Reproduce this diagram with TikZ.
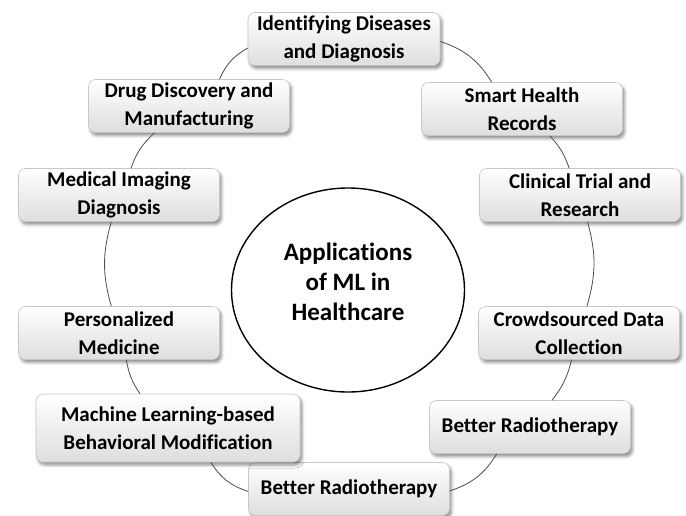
\documentclass[tikz,border=0pt]{standalone}
\usepackage{fontspec}
\setmainfont{Carlito}[Ligatures={NoCommon}]
\usetikzlibrary{shapes.geometric,shadows.blur}
\begin{document}
\begin{tikzpicture}[x=1pt,y=-1pt,
  appbox/.style={rectangle, rounded corners=7pt, draw=black!22, line width=0.6pt,
    top color=white, bottom color=black!13, minimum width=201pt, minimum height=53pt,
    align=center, inner sep=2pt, font=\fontsize{21}{28}\selectfont\bfseries,
    blur shadow={shadow xshift=2pt, shadow yshift=-3pt, shadow blur radius=3pt, shadow opacity=45}},
  hub/.style={ellipse, draw=black, line width=1.4pt, minimum width=233pt,
    minimum height=204pt, inner sep=0pt},
  hubtext/.style={align=center, font=\fontsize{25}{30}\selectfont\bfseries},
  ring/.style={draw=black!70, line width=0.8pt}]
\useasboundingbox (0,0) rectangle (686,515);

% centre of the diagram
\node[hub] (hub) at (348,290) {};
\node[hubtext] (hubt) at (348,282) {Applications\\of ML in\\Healthcare};

% application boxes, clockwise from the top
\node[appbox, minimum width=192pt] (n1) at (344,39) {Identifying Diseases\\and Diagnosis};
\node[appbox] (n2) at (522,109) {Smart Health\\Records};
\node[appbox] (n3) at (580,195) {Clinical Trial and\\Research};
\node[appbox] (n4) at (579,333) {Crowdsourced Data\\Collection};
\node[appbox] (n5) at (530,427) {Better Radiotherapy};
\node[appbox] (n6) at (349,489) {Better Radiotherapy};
\node[appbox, minimum width=264pt, minimum height=68pt] (n7) at (168,428) {Machine Learning-based\\Behavioral Modification};
\node[appbox] (n8) at (119,333) {Personalized\\Medicine};
\node[appbox] (n9) at (119,195) {Medical Imaging\\Diagnosis};
\node[appbox] (n10) at (189,106) {Drug Discovery and\\Manufacturing};

% ring of connectors between neighbouring boxes
\draw[ring] (n1) to[bend left=20] (n2);
\draw[ring] (n2) to[bend left=12] (n3);
\draw[ring] (n3) to[bend left=16] (n4);
\draw[ring] (n4) to[bend left=12] (n5);
\draw[ring] (n5) to[bend left=20] (n6);
\draw[ring] (n6) to[bend left=20] (n7);
\draw[ring] (n7) to[bend left=12] (n8);
\draw[ring] (n8) to[bend left=16] (n9);
\draw[ring] (n9) to[bend left=14] (n10);
\draw[ring] (n10) to[bend left=18] (n1);
\end{tikzpicture}
\end{document}
